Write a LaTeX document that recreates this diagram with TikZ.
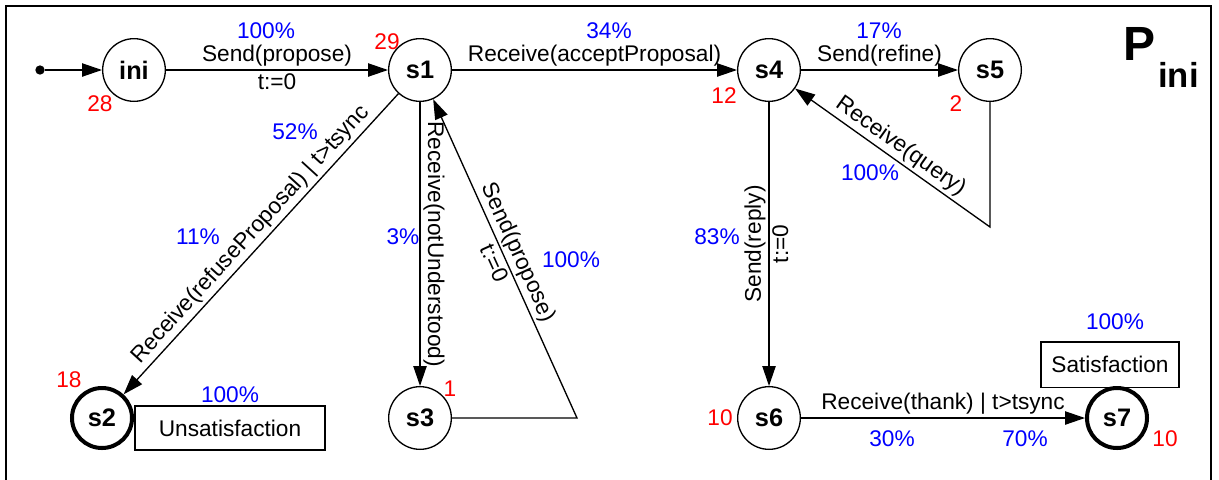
\documentclass[tikz,border=0pt]{standalone}
\usepackage{fontspec}
\setmainfont{Liberation Sans}
\usetikzlibrary{arrows.meta}

\begin{document}
\begin{tikzpicture}
[x=0.75pt,y=-0.75pt,%
  >={Triangle[length=15pt,width=10pt]},%
  every node/.style={font=\fontsize{17}{20}\selectfont},%
  state/.style={shape=circle,draw,line width=1pt,minimum size=47pt,inner sep=0pt,
    font=\fontsize{19}{22}\selectfont\bfseries},%
  final/.style={state,line width=3pt,minimum size=45pt},%
  trans/.style={->,line width=1pt},%
  lbl/.style={inner sep=2pt},%
  pct/.style={text=blue},%
  cnt/.style={text=red},%
  outcome/.style={shape=rectangle,draw,line width=1pt,inner sep=0pt}]
\useasboundingbox (0,0) rectangle (1219,479);
\draw[line width=1.3pt] (6,490) -- (6,6) -- (1211,6) -- (1211,490);
% title
\node[anchor=base west,inner sep=0pt,font=\fontsize{36}{40}\selectfont\bfseries] (titleP) at (1123,60) {P};
\node[anchor=base west,inner sep=0pt,font=\fontsize{26}{30}\selectfont\bfseries] (titleSub) at (1158,87) {ini};
% states
\node[shape=circle,fill,inner sep=0pt,minimum size=7pt] (start) at (40,70) {};
\node[state] (ini) at (134,70) {ini};
\node[state] (s1) at (420,70) {s1};
\node[state] (s4) at (769,70) {s4};
\node[state] (s5) at (990,70) {s5};
\node[final] (s2) at (102,418) {s2};
\node[state] (s3) at (420,418) {s3};
\node[state] (s6) at (769,418) {s6};
\node[final] (s7) at (1117,418) {s7};
\coordinate (c3) at (577,418);
\coordinate (c5) at (990,227);
% outcomes
\node[outcome,minimum width=142.5pt,minimum height=33pt] (unsat) at (230,428) {Unsatisfaction};
\node[outcome,minimum width=103.5pt,minimum height=34pt] (sat) at (1110,364.5) {Satisfaction};
% transitions
\draw[trans] (start) -- (ini);
\draw[trans] (ini) -- node[lbl,above] {Send(propose)} node[lbl,below] {t:=0} (s1);
\draw[trans] (s1) -- node[lbl,above] {Receive(acceptProposal)} (s4);
\draw[trans] (s4) -- node[lbl,above] {Send(refine)} (s5);
\draw[trans] (s1) -- node[lbl,sloped,above] {Receive(refuseProposal) | t>tsync} (s2);
\draw[trans] (s1) -- node[lbl,rotate=-90,anchor=south] {Receive(notUnderstood)} (s3);
\draw[trans] (s3) -- (c3) -- node[lbl,sloped,above] {Send(propose)} node[lbl,sloped,below] {t:=0} (s1);
\draw[trans] (s5) -- (c5) -- node[lbl,sloped,above] {Receive(query)} (s4);
\draw[trans] (s4) -- node[lbl,rotate=90,anchor=south] {Send(reply)} node[lbl,rotate=90,anchor=north] {t:=0} (s6);
\draw[trans] (s6) -- node[lbl,above] {Receive(thank) | t>tsync} (s7);
% percentages
\node[pct] (pIni) at (266,31) {100\%};
\node[pct] (pAcc) at (609,31) {34\%};
\node[pct] (pRef) at (879,31) {17\%};
\node[pct] (pRefuseA) at (295,132) {52\%};
\node[pct] (pRefuseB) at (198,237) {11\%};
\node[pct] (pNot) at (403,237) {3\%};
\node[pct] (pProp) at (571,260) {100\%};
\node[pct] (pQuery) at (870,173) {100\%};
\node[pct] (pReply) at (717,237) {83\%};
\node[pct] (pUnsat) at (230,395) {100\%};
\node[pct] (pSat) at (1115,322) {100\%};
\node[pct] (pThankA) at (892,439) {30\%};
\node[pct] (pThankB) at (1025,439) {70\%};
% visit counts
\node[cnt] (nIni) at (100,104) {28};
\node[cnt] (nS1) at (387,42) {29};
\node[cnt] (nS4) at (724,96) {12};
\node[cnt] (nS5) at (956,104) {2};
\node[cnt] (nS2) at (69,380) {18};
\node[cnt] (nS3) at (450,389) {1};
\node[cnt] (nS6) at (720,418) {10};
\node[cnt] (nS7) at (1165,439) {10};
\end{tikzpicture}
\end{document}
